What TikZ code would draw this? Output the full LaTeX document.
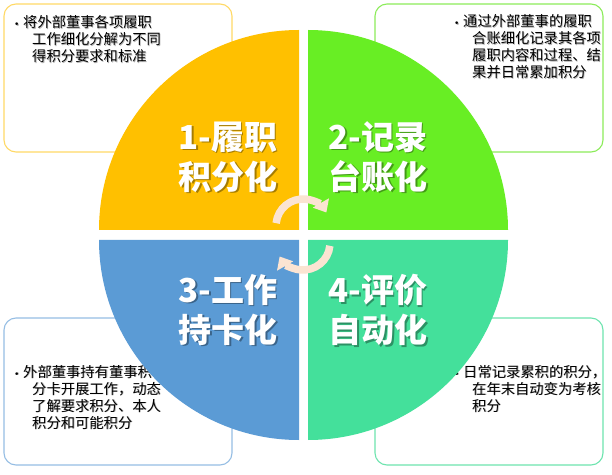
\documentclass[tikz,border=0pt]{standalone}
\usepackage{fontspec}
\setmainfont{Noto Sans CJK SC}
\newfontfamily\bulletfont{DejaVu Sans}
\usetikzlibrary{arrows.meta}
\definecolor{qyellow}{RGB}{255,192,0}
\definecolor{qgreen}{RGB}{104,238,36}
\definecolor{qblue}{RGB}{91,155,213}
\definecolor{qteal}{RGB}{68,224,155}
\definecolor{byellow}{RGB}{255,217,102}
\definecolor{bgreen}{RGB}{140,236,90}
\definecolor{bblue}{RGB}{150,190,228}
\definecolor{bteal}{RGB}{110,228,175}
\definecolor{peach}{RGB}{251,228,210}
\tikzset{
  infobox/.style={rounded corners=12pt, line width=1.1pt, fill=white},
  bodytext/.style={anchor=base west, inner sep=0pt, font=\fontsize{14.3}{17}\selectfont, text=black},
  bodyshadow/.style={bodytext, text=black, opacity=0.3},
  titletext/.style={align=center, inner sep=0pt, font=\fontsize{33}{40}\selectfont\bfseries},
  titleshadow/.style={titletext, text=black, opacity=0.35},
  titlefront/.style={titletext, text=white},
  cyclearrow/.style={line width=7.5pt, color=peach, -{Triangle[width=18pt,length=11pt]}}
}
\newcommand{\bodypar}[1]{\parbox[t]{200pt}{\hangindent=9pt\hangafter=1\noindent\llap{\makebox[9pt][l]{\bulletfont\fontsize{9}{9}\selectfont •}}#1}}
\begin{document}
\begin{tikzpicture}[x=1pt,y=1pt]
\useasboundingbox (0,0) rectangle (612,474);
\fill[white] (0,0) rectangle (612,474);
% info boxes
\draw[infobox, draw=byellow] (4,322) rectangle (232,470);
\draw[infobox, draw=bgreen] (375,322) rectangle (603,470);
\draw[infobox, draw=bblue] (4,9) rectangle (232,156);
\draw[infobox, draw=bteal] (375,9) rectangle (603,156);
% texts in boxes
\node[bodyshadow] at (23.8,445.2) {\bodypar{将外部董事各项履职\\工作细化分解为不同\\得积分要求和标准}};
\node[bodytext] (t1) at (23,446) {\bodypar{将外部董事各项履职\\工作细化分解为不同\\得积分要求和标准}};
\node[bodyshadow] at (463.8,446.2) {\bodypar{通过外部董事的履职\\合账细化记录其各项\\履职内容和过程、结\\果并日常累加积分}};
\node[bodytext] (t2) at (463,447) {\bodypar{通过外部董事的履职\\合账细化记录其各项\\履职内容和过程、结\\果并日常累加积分}};
\node[bodyshadow] at (23.8,96.2) {\bodypar{外部董事持有董事积\\分卡开展工作，动态\\了解要求积分、本人\\积分和可能积分}};
\node[bodytext] (t3) at (23,97) {\bodypar{外部董事持有董事积\\分卡开展工作，动态\\了解要求积分、本人\\积分和可能积分}};
\node[bodyshadow] at (463.8,96.2) {\bodypar{日常记录累积的积分，\\在年末自动变为考核\\积分}};
\node[bodytext] (t4) at (463,97) {\bodypar{日常记录累积的积分，\\在年末自动变为考核\\积分}};
% quadrants
\fill[qyellow] (299,244) -- ++(-200,0) arc[start angle=180, end angle=90, radius=200] -- cycle;
\fill[qgreen] (308,244) -- ++(0,200) arc[start angle=90, end angle=0, radius=200] -- cycle;
\fill[qblue] (299,234) -- ++(0,-200) arc[start angle=270, end angle=180, radius=200] -- cycle;
\fill[qteal] (308,234) -- ++(200,0) arc[start angle=0, end angle=-90, radius=200] -- cycle;
% titles
\node[titleshadow] at (229.5,315.5) {1-履职\\积分化};
\node[titlefront] (q1) at (228,317) {1-履职\\积分化};
\node[titleshadow] at (379.5,315.5) {2-记录\\台账化};
\node[titlefront] (q2) at (378,317) {2-记录\\台账化};
\node[titleshadow] at (229.5,162.5) {3-工作\\持卡化};
\node[titlefront] (q3) at (228,164) {3-工作\\持卡化};
\node[titleshadow] at (379.5,162.5) {4-评价\\自动化};
\node[titlefront] (q4) at (378,164) {4-评价\\自动化};
% cycle arrows
\coordinate (cu) at (303,248);
\coordinate (cl) at (303,231);
\draw[cyclearrow] ([shift={(174:27)}]cu) arc[start angle=174, end angle=30, radius=27];
\draw[cyclearrow] ([shift={(-6:27)}]cl) arc[start angle=-6, end angle=-150, radius=27];
\end{tikzpicture}
\end{document}
